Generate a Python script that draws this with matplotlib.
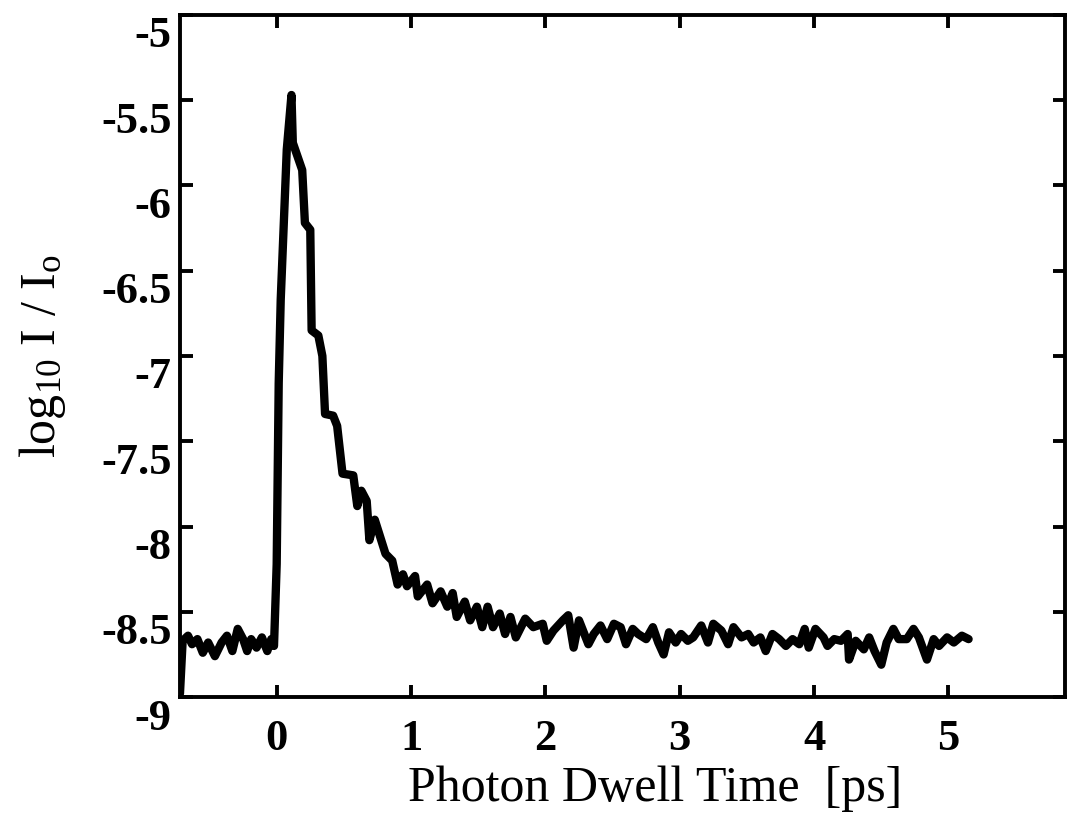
import matplotlib.pyplot as plt
from matplotlib.transforms import ScaledTranslation

# trace: photon dwell time [ps] vs log10 I/Io
time_ps = [
    -0.72, -0.70, -0.66, -0.63, -0.59, -0.55, -0.51, -0.46, -0.41, -0.37,
    -0.33, -0.29, -0.25, -0.22, -0.19, -0.15, -0.11, -0.07, -0.04, -0.02,
    0.00, 0.015, 0.03, 0.075, 0.11, 0.12, 0.19, 0.21, 0.25, 0.26,
    0.31, 0.34, 0.36, 0.42, 0.45, 0.49, 0.57, 0.60, 0.63, 0.67,
    0.69, 0.73, 0.77, 0.81, 0.86, 0.90, 0.94, 0.97, 1.03, 1.05,
    1.12, 1.16, 1.22, 1.27, 1.31, 1.34, 1.40, 1.44, 1.49, 1.53,
    1.57, 1.61, 1.66, 1.70, 1.74, 1.78, 1.85, 1.91, 1.98, 2.01,
    2.06, 2.13, 2.17, 2.21, 2.25, 2.32, 2.36, 2.41, 2.46, 2.51,
    2.56, 2.60, 2.65, 2.69, 2.75, 2.80, 2.84, 2.88, 2.92, 2.97,
    3.01, 3.06, 3.10, 3.16, 3.21, 3.25, 3.31, 3.36, 3.40, 3.46,
    3.51, 3.55, 3.60, 3.64, 3.69, 3.74, 3.79, 3.84, 3.89, 3.93,
    3.96, 4.01, 4.07, 4.10, 4.15, 4.20, 4.25, 4.26, 4.31, 4.37,
    4.41, 4.45, 4.50, 4.54, 4.59, 4.63, 4.69, 4.74, 4.78, 4.84,
    4.89, 4.93, 4.99, 5.04, 5.10, 5.15,
]
log_intensity = [
    -8.98, -8.67, -8.64, -8.69, -8.66, -8.74, -8.68, -8.76, -8.68, -8.64,
    -8.73, -8.60, -8.66, -8.73, -8.66, -8.71, -8.65, -8.73, -8.66, -8.70,
    -8.22, -7.16, -6.67, -5.79, -5.47, -5.75, -5.91, -6.22, -6.26, -6.85,
    -6.88, -7.00, -7.34, -7.35, -7.41, -7.69, -7.70, -7.88, -7.79, -7.85,
    -8.08, -7.96, -8.06, -8.16, -8.20, -8.34, -8.28, -8.35, -8.29, -8.41,
    -8.34, -8.45, -8.38, -8.47, -8.39, -8.53, -8.44, -8.55, -8.47, -8.59,
    -8.47, -8.59, -8.51, -8.63, -8.53, -8.65, -8.54, -8.59, -8.57, -8.67,
    -8.61, -8.55, -8.52, -8.71, -8.55, -8.69, -8.63, -8.58, -8.66, -8.57,
    -8.59, -8.69, -8.60, -8.63, -8.66, -8.59, -8.68, -8.75, -8.62, -8.68,
    -8.63, -8.67, -8.65, -8.58, -8.68, -8.57, -8.61, -8.69, -8.59, -8.65,
    -8.63, -8.68, -8.65, -8.73, -8.63, -8.66, -8.70, -8.66, -8.69, -8.60,
    -8.71, -8.60, -8.65, -8.70, -8.66, -8.67, -8.63, -8.78, -8.67, -8.72,
    -8.65, -8.73, -8.81, -8.68, -8.60, -8.66, -8.66, -8.60, -8.65, -8.78,
    -8.66, -8.70, -8.65, -8.68, -8.64, -8.66,
]

x_ticks = [0, 1, 2, 3, 4, 5]
y_ticks = [-9, -8.5, -8, -7.5, -7, -6.5, -6, -5.5, -5]
y_tick_labels = ['-9', '-8.5', '-8', '-7.5', '-7', '-6.5', '-6', '-5.5', '-5']

plt.rcParams['font.family'] = 'Liberation Serif'
plt.rcParams['mathtext.fontset'] = 'custom'
plt.rcParams['mathtext.rm'] = 'Liberation Serif'
plt.rcParams['mathtext.it'] = 'Liberation Serif'

fig = plt.figure(figsize=(10.68, 8.24), dpi=100)
ax = fig.add_axes([0.1685, 0.154, 0.829, 0.828])

ax.plot(time_ps, log_intensity, color='black', linewidth=6,
        solid_joinstyle='round', solid_capstyle='round')

ax.set_xlim(-0.72, 5.87)
ax.set_ylim(-9, -5)
ax.set_xticks(x_ticks)
ax.set_xticklabels([str(t) for t in x_ticks])
ax.set_yticks(y_ticks)
ax.set_yticklabels(y_tick_labels)

for s in ax.spines.values():
    s.set_linewidth(2.8)
ax.tick_params(direction='in', length=9, width=2.8, top=True, right=True,
               labelsize=32)
ax.tick_params(axis='x', pad=16)
ax.tick_params(axis='y', pad=6)

# the scanned figure has its y labels sitting a bit below their ticks
shift_down = ScaledTranslation(0, -0.17, fig.dpi_scale_trans)
for lab in ax.get_yticklabels():
    lab.set_fontweight('bold')
    lab.set_transform(lab.get_transform() + shift_down)
for lab in ax.get_xticklabels():
    lab.set_fontweight('bold')

ax.set_xlabel('Photon Dwell Time  [ps]', fontsize=36)
ax.xaxis.set_label_coords(0.537, -0.10)
ax.set_ylabel(r'log$_{10}$ I / I$_{\rm o}$', fontsize=36, labelpad=24)

fig.savefig('out.png', dpi=100)
